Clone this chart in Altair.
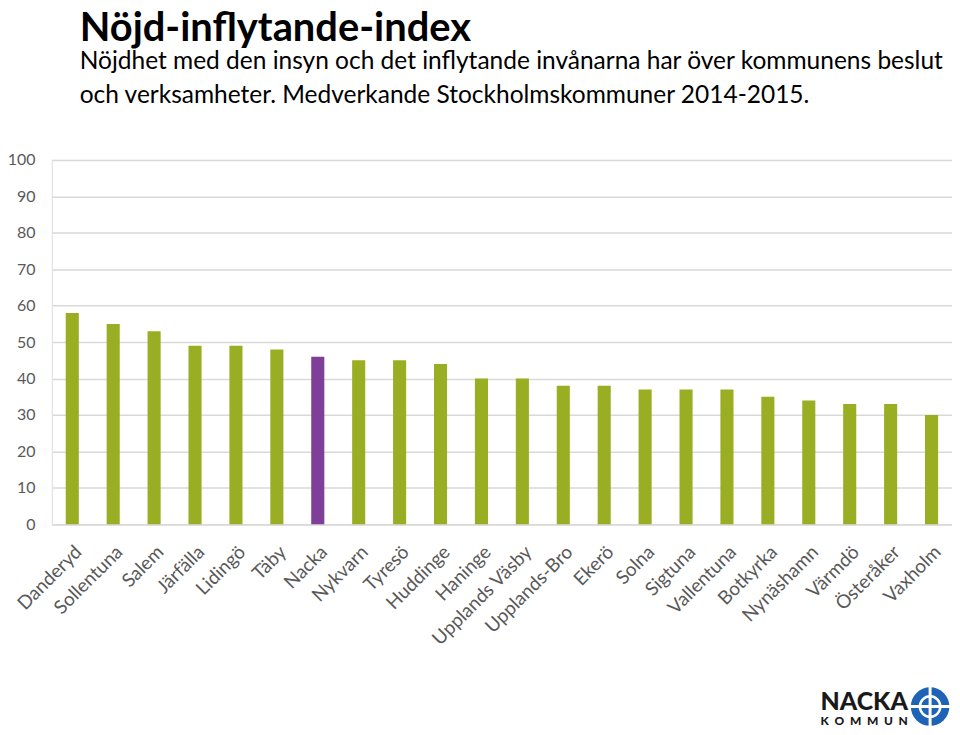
import altair as alt
import pandas as pd

kommuner = ["Danderyd", "Sollentuna", "Salem", "Järfälla", "Lidingö", "Täby", "Nacka",
            "Nykvarn", "Tyresö", "Huddinge", "Haninge", "Upplands Väsby", "Upplands-Bro",
            "Ekerö", "Solna", "Sigtuna", "Vallentuna", "Botkyrka", "Nynäshamn", "Värmdö",
            "Österåker", "Vaxholm"]
index_values = [58, 55, 53, 49, 49, 48, 46, 45, 45, 44, 40, 40, 38, 38, 37, 37, 37, 35, 34, 33, 33, 30]
highlight = "Nacka"
y_ticks = [0, 10, 20, 30, 40, 50, 60, 70, 80, 90, 100]

title_text = "Nöjd-inflytande-index"
subtitle_lines = [
    "Nöjdhet med den insyn och det inflytande invånarna har över kommunens beslut",
    "och verksamheter. Medverkande Stockholmskommuner 2014-2015.",
]

df = pd.DataFrame({"kommun": kommuner, "index": index_values})

GREEN = "#9aae23"
PURPLE = "#7f3f98"
GRID = "#d9d9d9"
LABEL = "#595959"
FONT = "Lato"

bars = alt.Chart(df).mark_bar().encode(
    x=alt.X("kommun:N", sort=None,
            scale=alt.Scale(paddingInner=0.68, paddingOuter=0.34),
            axis=alt.Axis(title=None, labelAngle=-45, labelFontSize=19, labelColor=LABEL,
                          labelFont=FONT, ticks=False, domainColor=GRID, domainWidth=1.5,
                          labelPadding=18, labelOverlap=False)),
    y=alt.Y("index:Q", scale=alt.Scale(domain=[0, 100], nice=False),
            axis=alt.Axis(title=None, values=y_ticks, labelFontSize=16, labelColor=LABEL,
                          labelFont=FONT, ticks=False, domain=False, gridColor=GRID,
                          gridWidth=1.5, labelPadding=17)),
    color=alt.condition(alt.datum.kommun == highlight, alt.value(PURPLE), alt.value(GREEN)),
)

# Logo (NACKA KOMMUN)
NB = "\u00a0\u00a0"
logo_df = pd.DataFrame({"t": ["NACKA"]})
kommun_df = pd.DataFrame({"t": [NB.join("KOMMUN")]})
dot_df = pd.DataFrame({"t": [""]})

logo_name = alt.Chart(logo_df).mark_text(font=FONT, fontWeight=900, fontSize=25, align="left",
                                          baseline="alphabetic", color="#1a1a1a").encode(
    x=alt.value(772), y=alt.value(552), text="t:N")
logo_sub = alt.Chart(kommun_df).mark_text(font=FONT, fontWeight=900, fontSize=12, align="left",
                                           baseline="alphabetic", color="#1a1a1a").encode(
    x=alt.value(772), y=alt.value(567), text="t:N")
globe = alt.Chart(dot_df).mark_point(shape="circle", filled=True, size=1500, opacity=1,
                                     color="#1f63b6").encode(x=alt.value(882), y=alt.value(549))
globe_ring = alt.Chart(dot_df).mark_point(shape="circle", filled=False, size=420, opacity=1,
                                          color="white", strokeWidth=2.5).encode(
    x=alt.value(882), y=alt.value(549))
globe_h = alt.Chart(dot_df).mark_rule(color="white", strokeWidth=3).encode(
    x=alt.value(861), x2=alt.value(903), y=alt.value(549))
globe_v = alt.Chart(dot_df).mark_rule(color="white", strokeWidth=3).encode(
    y=alt.value(528), y2=alt.value(570), x=alt.value(882))

chart = alt.layer(bars, globe, globe_ring, globe_h, globe_v, logo_name, logo_sub).properties(
    width=904,
    height=366,
    padding={"left": 44, "top": 151, "right": 0, "bottom": 208},
    autosize=alt.AutoSizeParams(type="none"),
    title=alt.TitleParams(
        text=title_text,
        subtitle=subtitle_lines,
        anchor="start",
        frame="group",
        dx=28,
        offset=45,
        font=FONT,
        fontSize=40,
        fontWeight="bold",
        color="black",
        subtitleFont=FONT,
        subtitleFontSize=24.6,
        subtitleColor="black",
        subtitleLineHeight=34,
        subtitlePadding=1,
    ),
).configure_view(stroke=None).configure(background="white")

chart.save("out.html", embed_options={"renderer": "svg", "actions": False})
